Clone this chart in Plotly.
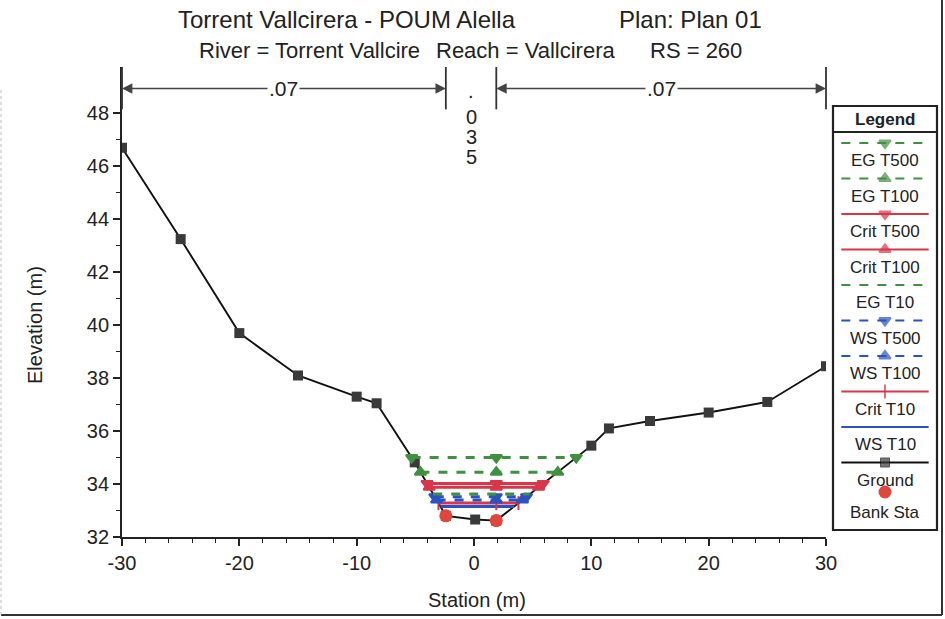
import numpy as np
import plotly.graph_objects as go

# ---------------- data ----------------
ground_x = [-30, -25, -20, -15, -10, -8.3, -5.05, -2.4, 0.1, 1.9, 10, 11.5, 15, 20, 25, 30]
ground_z = [46.7, 43.25, 39.7, 38.1, 37.3, 37.05, 34.82, 32.8, 32.66, 32.62, 35.45, 36.1, 36.38, 36.7, 37.1, 38.45]
bank_x = [-2.4, 1.9]
bank_z = [32.8, 32.62]

profile_names = ["EG T500", "EG T100", "Crit T500", "Crit T100", "EG T10",
                 "WS T500", "WS T100", "Crit T10", "WS T10"]
profile_levels = [35.0, 34.45, 34.02, 33.88, 33.62, 33.52, 33.4, 33.28, 33.15]

n_values = [".07", ".035", ".07"]
x_ticks = [-30, -20, -10, 0, 10, 20, 30]
x_ticklabels = ["-30", "-20", "-10", "0", "10", "20", "30"]
y_ticks = [32, 34, 36, 38, 40, 42, 44, 46, 48]

# ---------------- styles ----------------
GREEN = "#3f9140"
RED = "#d8364a"
BLUE = "#2a52c0"
styles = {
    "EG T500": dict(color=GREEN, dash="dash", symbol="triangle-down"),
    "EG T100": dict(color=GREEN, dash="dash", symbol="triangle-up"),
    "Crit T500": dict(color=RED, dash="solid", symbol="triangle-down"),
    "Crit T100": dict(color=RED, dash="solid", symbol="triangle-up"),
    "EG T10": dict(color=GREEN, dash="dash", symbol=None),
    "WS T500": dict(color=BLUE, dash="dash", symbol="triangle-down"),
    "WS T100": dict(color=BLUE, dash="dash", symbol="triangle-up"),
    "Crit T10": dict(color=RED, dash="solid", symbol="line-ns"),
    "WS T10": dict(color=BLUE, dash="solid", symbol=None),
}
FONT = "Liberation Sans, Arial, sans-serif"
TXT = "#222"

gx = np.array(ground_x)
gz = np.array(ground_z)
imin = int(np.argmin(gz))
left_x, left_z = gx[:imin + 1], gz[:imin + 1]
right_x, right_z = gx[imin:], gz[imin:]


def wet_extent(h):
    xl = np.interp(h, left_z[::-1], left_x[::-1])
    xr = np.interp(h, right_z, right_x)
    return xl, xr


W, H = 945, 619
L, R, T, B = 122, 5, 67, 82
XMIN, XMAX = -30, 30
YMIN, YMAX = 32, 49.75
plot_w = 704
pw = W - L - R
ph = H - T - B
dom_x = plot_w / pw


def xpaper(x):
    return (x - XMIN) / (XMAX - XMIN) * dom_x


def px2px(x):
    return (x - L) / pw


def py2py(y):
    return (H - B - y) / ph


def text_ann(x, y, text, size, **kw):
    d = dict(x=x, y=y, xref="paper", yref="paper", text=text, showarrow=False,
             xanchor="center", yanchor="middle",
             font=dict(size=size, color=TXT, family=FONT))
    d.update(kw)
    return d


fig = go.Figure()

# ground
fig.add_trace(go.Scatter(x=ground_x, y=ground_z, mode="lines+markers",
                         line=dict(color="#111111", width=1.9),
                         marker=dict(symbol="square", size=10, color="#3a3a3a"),
                         showlegend=False, hoverinfo="skip"))

# water surfaces (draw from lowest to highest)
for name, h in reversed(list(zip(profile_names, profile_levels))):
    st = styles[name]
    xl, xr = wet_extent(h)
    xs = [xl, bank_x[1], xr]
    mode = "lines+markers" if st["symbol"] else "lines"
    mk = dict(symbol=st["symbol"], size=10, color=st["color"],
              line=dict(color=st["color"], width=2)) if st["symbol"] else None
    fig.add_trace(go.Scatter(x=xs, y=[h] * 3, mode=mode,
                             line=dict(color=st["color"], width=3, dash=st["dash"]),
                             marker=mk, showlegend=False, hoverinfo="skip"))

# bank stations
fig.add_trace(go.Scatter(x=bank_x, y=bank_z, mode="markers",
                         marker=dict(symbol="circle", size=13, color="#e0463c"),
                         showlegend=False, hoverinfo="skip"))

# ---------------- Manning's n annotations ----------------
shapes = []
annotations = []
n_bounds = [XMIN] + bank_x + [XMAX]
arrow_y = 48.94
for xb in n_bounds:
    shapes.append(dict(type="line", xref="paper", yref="y", x0=xpaper(xb), x1=xpaper(xb),
                       y0=48.15, y1=YMAX, line=dict(color="#333", width=1.8)))
for (a, b), txt in zip([(XMIN, bank_x[0]), (bank_x[1], XMAX)], [n_values[0], n_values[2]]):
    mid = (a + b) / 2
    for end in (a, b):
        annotations.append(dict(x=end, y=arrow_y, ax=mid, ay=arrow_y, axref="x", ayref="y",
                                xref="x", yref="y", text="", showarrow=True,
                                arrowhead=2, arrowsize=1.3, arrowwidth=1.6, arrowcolor="#444"))
    annotations.append(dict(x=mid, y=arrow_y, xref="x", yref="y", text=txt, showarrow=False,
                            xanchor="center", yanchor="middle", bgcolor="white",
                            font=dict(size=21, color=TXT, family=FONT)))
mid_n = xpaper((bank_x[0] + bank_x[1]) / 2)
for ch, yy in zip(list(n_values[1]), [91, 117, 137, 157]):
    annotations.append(text_ann(mid_n, py2py(yy), ch, 20))

# titles
annotations.append(text_ann(px2px(347), py2py(20), "Torrent Vallcirera - POUM Alella", 24))
annotations.append(text_ann(px2px(690), py2py(20), "Plan: Plan 01", 24))
annotations.append(text_ann(px2px(309), py2py(51), "River = Torrent Vallcire", 22))
annotations.append(text_ann(px2px(525), py2py(51), "Reach = Vallcirera", 22))
annotations.append(text_ann(px2px(696), py2py(51), "RS = 260", 22))

# axis titles
annotations.append(text_ann(px2px(35), py2py(325), "Elevation (m)", 20, textangle=-90))
annotations.append(text_ann(px2px(477), py2py(600), "Station (m)", 20))

# ---------------- custom legend (right box) ----------------
LG_L, LG_R, LG_T, LG_B = 833, 937, 106, 530
shapes.append(dict(type="rect", xref="paper", yref="paper", x0=px2px(LG_L), x1=px2px(LG_R),
                   y0=py2py(LG_B), y1=py2py(LG_T), line=dict(color="#222", width=2.2)))
shapes.append(dict(type="line", xref="paper", yref="paper", x0=px2px(LG_L), x1=px2px(LG_R),
                   y0=py2py(132), y1=py2py(132), line=dict(color="#222", width=2)))
annotations.append(text_ann(px2px((LG_L + LG_R) / 2), py2py(119), "<b>Legend</b>", 17))

leg_names = profile_names + ["Ground", "Bank Sta"]
fig.update_layout(xaxis2=dict(domain=[px2px(LG_L), px2px(LG_R)], range=[0, 1],
                              visible=False, fixedrange=True),
                  yaxis2=dict(domain=[py2py(LG_B), py2py(LG_T)], range=[LG_B, LG_T],
                              visible=False, anchor="x2", fixedrange=True))
for i, name in enumerate(leg_names):
    sy = 143 + 35.5 * i
    ly = sy + 17.5
    if name == "Bank Sta":
        sy, ly = 492, 512
        fig.add_trace(go.Scatter(x=[0.5], y=[sy], xaxis="x2", yaxis="y2", mode="markers",
                                 marker=dict(symbol="circle", size=13, color="#e0463c"),
                                 showlegend=False, hoverinfo="skip"))
    elif name == "Ground":
        fig.add_trace(go.Scatter(x=[0.08, 0.5, 0.92], y=[sy] * 3, xaxis="x2", yaxis="y2",
                                 mode="lines+markers", line=dict(color="#111", width=1.8),
                                 marker=dict(symbol="square", size=[0, 9, 0], color="#3a3a3a"),
                                 showlegend=False, hoverinfo="skip"))
    else:
        st = styles[name]
        sizes = [0, 10, 0] if st["symbol"] else [0, 0, 0]
        fig.add_trace(go.Scatter(x=[0.08, 0.5, 0.92], y=[sy] * 3, xaxis="x2", yaxis="y2",
                                 mode="lines+markers",
                                 line=dict(color=st["color"], width=2, dash=st["dash"]),
                                 marker=dict(symbol=st["symbol"] or "circle", size=sizes,
                                             color=st["color"],
                                             line=dict(color=st["color"], width=2)),
                                 showlegend=False, hoverinfo="skip"))
    annotations.append(text_ann(px2px((LG_L + LG_R) / 2), py2py(ly), name, 17))

# outer border (right, bottom, faint left)
shapes.append(dict(type="line", xref="paper", yref="paper", x0=px2px(942), x1=px2px(942),
                   y0=py2py(615), y1=py2py(0), line=dict(color="#333", width=2)))
shapes.append(dict(type="line", xref="paper", yref="paper", x0=px2px(1), x1=px2px(942),
                   y0=py2py(615), y1=py2py(615), line=dict(color="#333", width=2)))
shapes.append(dict(type="line", xref="paper", yref="paper", x0=px2px(1), x1=px2px(1),
                   y0=py2py(615), y1=py2py(90), line=dict(color="#bbb", width=1, dash="dot")))

fig.update_layout(
    width=W, height=H,
    margin=dict(l=L, r=R, t=T, b=B, autoexpand=False),
    paper_bgcolor="white", plot_bgcolor="white",
    font=dict(family=FONT, color=TXT),
    shapes=shapes, annotations=annotations,
    xaxis=dict(domain=[0, dom_x], range=[XMIN, XMAX], tickvals=x_ticks, ticktext=x_ticklabels,
               ticks="outside", ticklen=7, tickwidth=1.5, tickcolor="#222", automargin=False,
               minor=dict(dtick=2, tick0=0, ticks="outside", ticklen=4, tickwidth=1.3, tickcolor="#222"),
               showline=True, linecolor="#222", linewidth=1.8, showgrid=False, zeroline=False,
               tickfont=dict(size=20, color=TXT)),
    yaxis=dict(domain=[0, 1], range=[YMIN, YMAX], tickvals=y_ticks, automargin=False,
               ticks="outside", ticklen=7, tickwidth=1.5, tickcolor="#222",
               minor=dict(tickvals=[v + 1 for v in y_ticks[:-1]], ticks="outside",
                          ticklen=4, tickwidth=1.3, tickcolor="#222"),
               showline=True, linecolor="#222", linewidth=1.8, showgrid=False, zeroline=False,
               tickfont=dict(size=20, color=TXT)),
)

fig.write_html("out.html")
